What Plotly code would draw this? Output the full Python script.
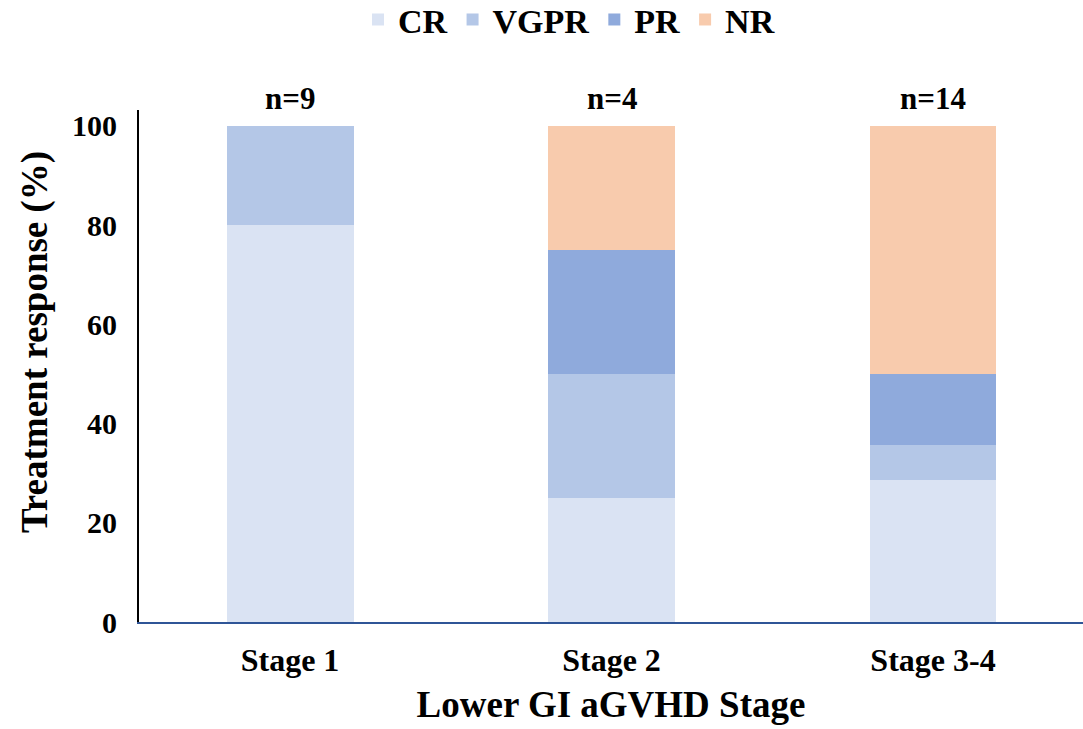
import plotly.graph_objects as go

stages = ["Stage 1", "Stage 2", "Stage 3-4"]
n_labels = ["n=9", "n=4", "n=14"]
cr = [80.0, 25.0, 28.6]
vgpr = [20.0, 25.0, 7.1]
pr = [0.0, 25.0, 14.3]
nr = [0.0, 25.0, 50.0]

series = [
    ("CR", cr, "#DAE3F3"),
    ("VGPR", vgpr, "#B4C7E7"),
    ("PR", pr, "#8FAADC"),
    ("NR", nr, "#F8CBAD"),
]

FONT = "Liberation Serif"


def bold(size):
    return dict(family=FONT, size=size, color="black", weight="bold")


fig = go.Figure()
for name, vals, color in series:
    fig.add_trace(go.Bar(
        x=stages, y=vals, name=name,
        marker=dict(color=color, line=dict(width=0)),
        width=0.395,
    ))

# sample sizes above each bar
for s, lab in zip(stages, n_labels):
    fig.add_annotation(
        x=s, y=100, text=lab, showarrow=False,
        yanchor="bottom", yshift=8,
        font=bold(31),
    )

# y-axis title
fig.add_annotation(
    xref="paper", yref="paper", x=-0.110, y=0.547,
    xanchor="center", yanchor="middle", textangle=-90,
    text="Treatment response (%)", showarrow=False,
    font=bold(37),
)

fig.update_layout(
    barmode="stack",
    width=1083, height=729,
    margin=dict(l=139, r=0, t=110, b=107, autoexpand=False),
    plot_bgcolor="white", paper_bgcolor="white",
    font=dict(family=FONT, color="black"),
    legend=dict(
        orientation="h", x=0.232, xanchor="left", y=1.176, yanchor="middle",
        yref="paper", xref="paper",
        font=bold(34),
        traceorder="normal", itemwidth=30,
    ),
    xaxis=dict(
        range=[-0.4697, 2.4666],
        showline=True, linecolor="#2F5597", linewidth=2,
        ticks="", tickfont=bold(32), ticklabelstandoff=9,
        title=dict(text="Lower GI aGVHD Stage", font=bold(37), standoff=14),
    ),
    yaxis=dict(
        range=[0, 103.2],
        tickvals=[0, 20, 40, 60, 80, 100],
        showline=True, linecolor="black", linewidth=2,
        showgrid=False, zeroline=False,
        ticks="", ticklabelstandoff=14,
        tickfont=bold(30),
    ),
)

fig.write_html("out.html")
